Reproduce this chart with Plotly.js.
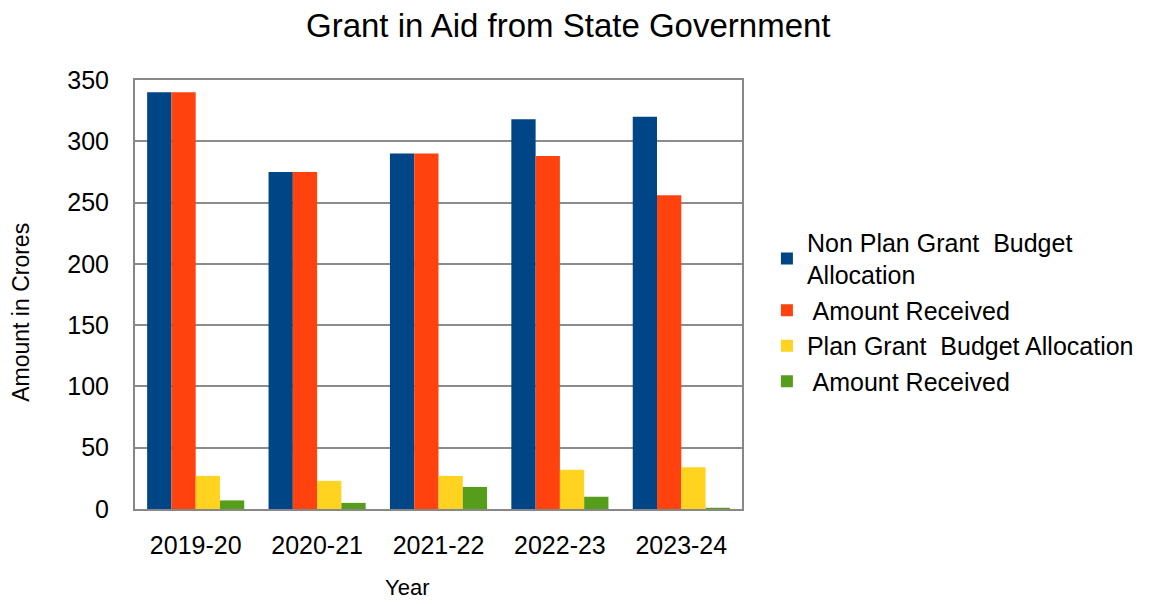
<!DOCTYPE html>
<html><head><meta charset="utf-8">
<script src="https://cdn.plot.ly/plotly-3.0.1.min.js"></script>
<style>body{margin:0;background:#fff}#c{width:1155px;height:604px}</style>
</head><body><div id="c"></div>
<script>
const years = ["2019-20","2020-21","2021-22","2022-23","2023-24"];
const nonPlanAlloc = [340, 275, 290, 318, 320];
const nonPlanRecv = [340, 275, 290, 288, 256];
const planAlloc = [27, 23, 27, 32, 34];
const planRecv = [7, 5, 18, 10, 1];
const seriesNames = ["Non Plan Grant  Budget<br>Allocation", " Amount Received", "Plan Grant  Budget Allocation", " Amount Received"];
const colors = ["#004586", "#ff420e", "#ffd320", "#579d1c"];
const xTitle = "Year";
const yTitle = "Amount in Crores";
const values = [nonPlanAlloc, nonPlanRecv, planAlloc, planRecv];
const font = "Liberation Sans, Arial, sans-serif";
const traces = values.map((v, i) => ({
  type: "bar", x: years, y: v, name: seriesNames[i],
  marker: {color: colors[i], line: {width: 0}}
}));
const layout = {
  width: 1155, height: 604,
  margin: {l: 135, r: 413, t: 80, b: 95, autoexpand: false},
  paper_bgcolor: "#fff", plot_bgcolor: "#fff",
  font: {family: font, color: "#000"},
  title: {text: "Grant in Aid from State Government", font: {size: 33, family: font}, x: 0.492, xanchor: "center", y: 0.958, yanchor: "middle"},
  barmode: "group", bargap: 0.2, bargroupgap: 0,
  xaxis: {tickfont: {size: 25},
    showline: true, linecolor: "#888", linewidth: 2, ticks: "", ticklabelstandoff: 13, mirror: true},
  yaxis: {tickfont: {size: 25},
    range: [0, 350], dtick: 50, showgrid: true, gridcolor: "#8c8c8c", gridwidth: 2,
    showline: true, linecolor: "#888", linewidth: 2, mirror: true, ticks: "",
    ticklabelstandoff: 19, zeroline: false},
  annotations: [
    {text: xTitle, xref: "paper", yref: "paper", x: 0.448, y: -0.184, xanchor: "center", yanchor: "middle",
     showarrow: false, font: {size: 22}, borderpad: 0},
    {text: yTitle, xref: "paper", yref: "paper", x: -0.189, y: 0.458, xanchor: "center", yanchor: "middle",
     textangle: -90, showarrow: false, font: {size: 23}, borderpad: 0}
  ],
  legend: {xref: "container", x: 0.664, xanchor: "left", y: 0.675, yanchor: "top", font: {size: 25}, tracegroupgap: 6,
    itemwidth: 30, bgcolor: "rgba(0,0,0,0)"},
  showlegend: true
};
Plotly.newPlot("c", traces, layout, {displayModeBar: false, staticPlot: true});
</script></body></html>
